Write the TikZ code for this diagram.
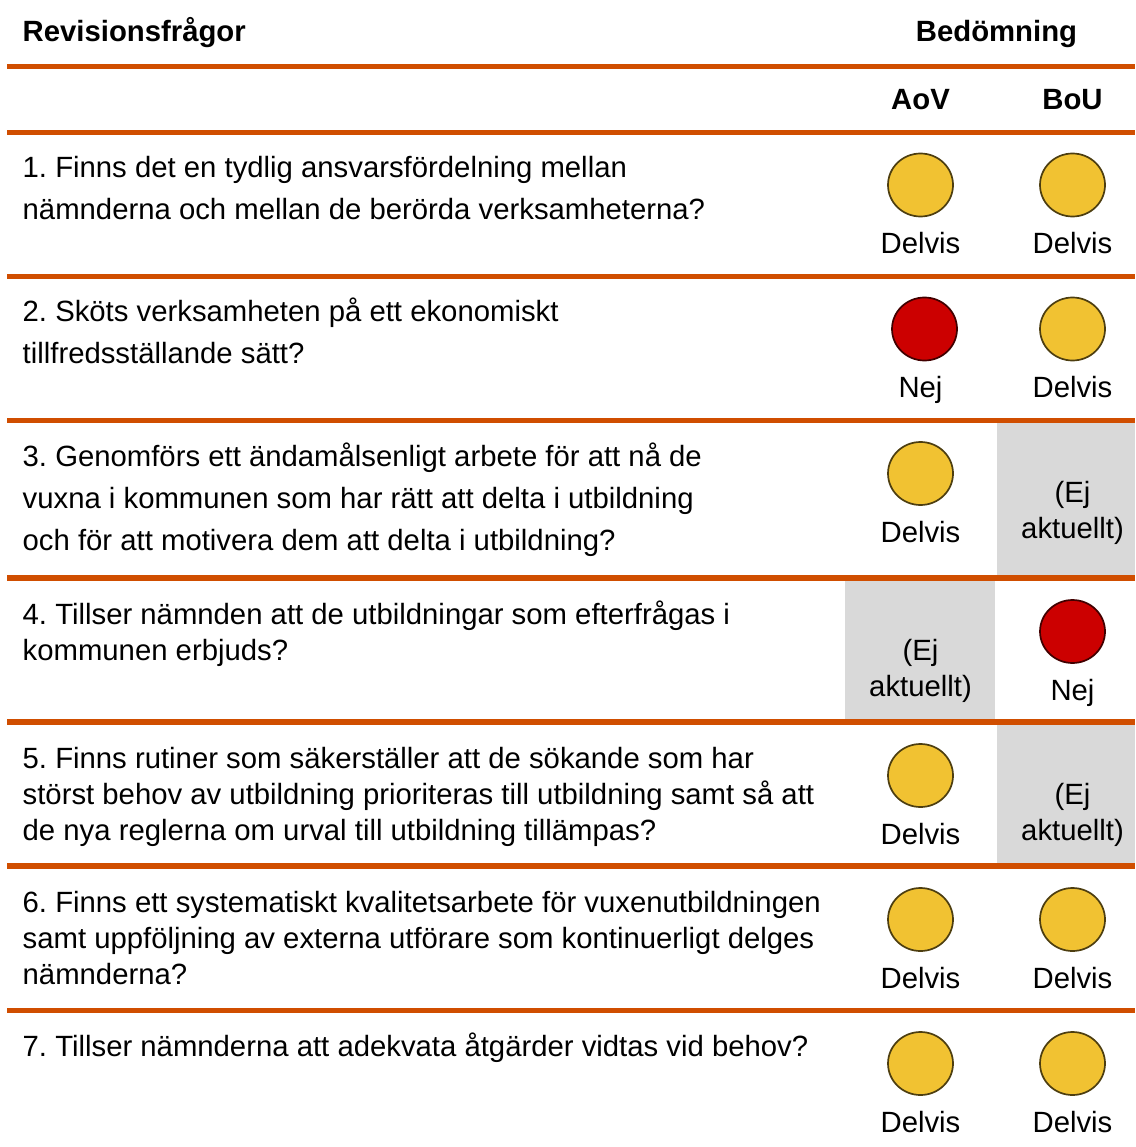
\documentclass[tikz,border=0pt]{standalone}
\usepackage{fontspec}
\setmainfont{Liberation Sans}
\frenchspacing
\definecolor{rulec}{HTML}{D04E00}
\definecolor{yel}{HTML}{F1C232}
\definecolor{redc}{HTML}{CC0000}
\definecolor{greyc}{HTML}{D9D9D9}
\tikzset{
  txt/.style={anchor=base west,inner sep=0pt,font=\fontsize{29.3}{29.3}\selectfont},
  ctr/.style={anchor=base,inner sep=0pt,font=\fontsize{29.3}{29.3}\selectfont},
  hdr/.style={anchor=base,inner sep=0pt,font=\fontsize{29.3}{29.3}\selectfont\bfseries},
  rulel/.style={draw=rulec,line width=5.5pt},
  lamp/.style={line width=1.7pt,ellipse,minimum width=65pt,minimum height=63pt,inner sep=0pt},
  ylamp/.style={lamp,fill=yel,draw=black!68!yel},
  rlamp/.style={lamp,fill=redc,draw=black!68!redc}
}
\usetikzlibrary{shapes.geometric}
\begin{document}
\begin{tikzpicture}[x=1pt,y=-1pt]
\useasboundingbox (0,0) rectangle (1135,1147);
% grey cells
\fill[greyc] (997,423) rectangle (1135,576);
\fill[greyc] (845,581) rectangle (995,720);
\fill[greyc] (997,725) rectangle (1135,864);
% rules
\foreach \y in {66.5,132.5,276.5,420.5,578,722,866,1010.5}
  \draw[rulel] (7,\y) -- (1135,\y);
% headers
\node[hdr,anchor=base west] (h1) at (22.5,41.5) {Revisionsfrågor};
\node[hdr] (h2) at (996.5,41.5) {Bedömning};
\node[hdr] (h3) at (920.5,109.5) {AoV};
\node[hdr] (h4) at (1072.5,109.5) {BoU};
% questions
\node[txt] (q1a) at (22.5,177.5) {1. Finns det en tydlig ansvarsfördelning mellan};
\node[txt] (q1b) at (22.5,219.5) {nämnderna och mellan de berörda verksamheterna?};
\node[txt] (q2a) at (22.5,321) {2. Sköts verksamheten på ett ekonomiskt};
\node[txt] (q2b) at (22.5,363) {tillfredsställande sätt?};
\node[txt] (q3a) at (22.5,466) {3. Genomförs ett ändamålsenligt arbete för att nå de};
\node[txt] (q3b) at (22.5,508) {vuxna i kommunen som har rätt att delta i utbildning};
\node[txt] (q3c) at (22.5,550) {och för att motivera dem att delta i utbildning?};
\node[txt] (q4a) at (22.5,624) {4. Tillser nämnden att de utbildningar som efterfrågas i};
\node[txt] (q4b) at (22.5,660) {kommunen erbjuds?};
\node[txt] (q5a) at (22.5,768) {5. Finns rutiner som säkerställer att de sökande som har};
\node[txt] (q5b) at (22.5,804) {störst behov av utbildning prioriteras till utbildning samt så att};
\node[txt] (q5c) at (22.5,840) {de nya reglerna om urval till utbildning tillämpas?};
\node[txt] (q6a) at (22.5,912) {6. Finns ett systematiskt kvalitetsarbete för vuxenutbildningen};
\node[txt] (q6b) at (22.5,948) {samt uppföljning av externa utförare som kontinuerligt delges};
\node[txt] (q6c) at (22.5,984) {nämnderna?};
\node[txt] (q7a) at (22.5,1056) {7. Tillser nämnderna att adekvata åtgärder vidtas vid behov?};
% lamps
\node[ylamp] (l1a) at (920.5,185) {};
\node[ylamp] (l1b) at (1072.5,185) {};
\node[rlamp] (l2a) at (924.5,329) {};
\node[ylamp] (l2b) at (1072.5,329) {};
\node[ylamp] (l3a) at (920.5,473.5) {};
\node[rlamp] (l4b) at (1072.5,631.5) {};
\node[ylamp] (l5a) at (920.5,775.5) {};
\node[ylamp] (l6a) at (920.5,919.5) {};
\node[ylamp] (l6b) at (1072.5,919.5) {};
\node[ylamp] (l7a) at (920.5,1063.5) {};
\node[ylamp] (l7b) at (1072.5,1063.5) {};
% lamp labels
\node[ctr] (t1a) at (920.5,253.5) {Delvis};
\node[ctr] (t1b) at (1072.5,253.5) {Delvis};
\node[ctr] (t2a) at (920.5,397) {Nej};
\node[ctr] (t2b) at (1072.5,397) {Delvis};
\node[ctr] (t3a) at (920.5,542) {Delvis};
\node[ctr] (t3b1) at (1072.5,502) {(Ej};
\node[ctr] (t3b2) at (1072.5,538) {aktuellt)};
\node[ctr] (t4a1) at (920.5,660) {(Ej};
\node[ctr] (t4a2) at (920.5,696) {aktuellt)};
\node[ctr] (t4b) at (1072.5,700) {Nej};
\node[ctr] (t5a) at (920.5,844) {Delvis};
\node[ctr] (t5b1) at (1072.5,804) {(Ej};
\node[ctr] (t5b2) at (1072.5,840) {aktuellt)};
\node[ctr] (t6a) at (920.5,988) {Delvis};
\node[ctr] (t6b) at (1072.5,988) {Delvis};
\node[ctr] (t7a) at (920.5,1132) {Delvis};
\node[ctr] (t7b) at (1072.5,1132) {Delvis};
\end{tikzpicture}
\end{document}
